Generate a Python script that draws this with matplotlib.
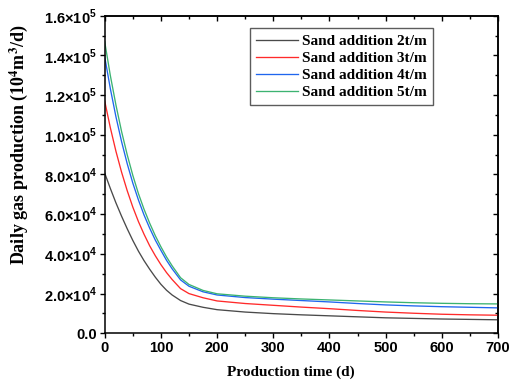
import math
import matplotlib
matplotlib.use("Agg")
import matplotlib.pyplot as plt
from matplotlib.ticker import MultipleLocator, FuncFormatter

# ---- data (values in units of 1e4 m3/d) ----
t = [0, 10, 20, 30, 40, 50, 60, 70, 80, 90, 100, 110, 120, 135, 150, 175, 200,
     250, 300, 350, 400, 450, 500, 550, 600, 650, 700]
gas_2t = [8.07, 7.3, 6.57, 5.9, 5.27, 4.68, 4.14, 3.66, 3.23, 2.83, 2.47, 2.17, 1.93,
          1.65, 1.47, 1.31, 1.19, 1.07, 0.99, 0.93, 0.88, 0.83, 0.78, 0.75, 0.72, 0.70, 0.68]
gas_3t = [11.7, 10.36, 9.17, 8.12, 7.19, 6.36, 5.63, 4.99, 4.41, 3.91, 3.46, 3.06, 2.71,
          2.25, 2.0, 1.79, 1.63, 1.5, 1.41, 1.32, 1.24, 1.15, 1.07, 1.01, 0.96, 0.93, 0.91]
gas_4t = [13.93, 12.33, 10.91, 9.66, 8.55, 7.57, 6.72, 5.96, 5.3, 4.7, 4.18, 3.68, 3.25,
          2.69, 2.37, 2.09, 1.93, 1.8, 1.72, 1.65, 1.58, 1.5, 1.43, 1.38, 1.34, 1.31, 1.28]
gas_5t = [14.69, 12.99, 11.5, 10.17, 9.0, 7.96, 7.04, 6.25, 5.55, 4.92, 4.36, 3.85, 3.4,
          2.8, 2.46, 2.16, 1.99, 1.87, 1.79, 1.73, 1.68, 1.63, 1.58, 1.54, 1.51, 1.49, 1.48]
labels = ["Sand addition 2t/m", "Sand addition 3t/m",
          "Sand addition 4t/m", "Sand addition 5t/m"]
colors = ["#4a4a4a", "#ff2a2a", "#1f66ee", "#3cb371"]

plt.rcParams['mathtext.fontset'] = 'custom'
plt.rcParams['mathtext.rm'] = 'Liberation Sans:bold'
plt.rcParams['mathtext.bf'] = 'Liberation Sans:bold'

fig = plt.figure(figsize=(5.09, 3.82), dpi=100)
ax = fig.add_axes([0.2057, 0.1275, 0.7727, 0.8314])

for y, lab, c in zip([gas_2t, gas_3t, gas_4t, gas_5t], labels, colors):
    ax.plot(t, [v * 1e4 for v in y], color=c, lw=0.95, label=lab)

ax.set_xlim(0, 700)
ax.set_ylim(0, 1.6e5)
ax.xaxis.set_major_locator(MultipleLocator(100))
ax.xaxis.set_minor_locator(MultipleLocator(50))
ax.yaxis.set_major_locator(MultipleLocator(2e4))
ax.yaxis.set_minor_locator(MultipleLocator(1e4))


def yfmt(v, pos):
    if v == 0:
        return "0.0"
    e = int(math.floor(math.log10(abs(v)) + 1e-9))
    m = v / 10 ** e
    return "%.1f\u00d710$^{%d}$" % (m, e)


ax.yaxis.set_major_formatter(FuncFormatter(yfmt))

for s in ax.spines.values():
    s.set_linewidth(1.1)

ax.tick_params(which='both', direction='out', width=1.0, labelsize=10.5, pad=2)
ax.tick_params(which='major', length=3.5)
ax.tick_params(which='minor', length=2)
for lab in ax.get_xticklabels() + ax.get_yticklabels():
    lab.set_fontfamily('Liberation Sans')
    lab.set_fontweight('bold')

secx = ax.secondary_xaxis('top')
secx.xaxis.set_major_locator(MultipleLocator(100))
secx.xaxis.set_minor_locator(MultipleLocator(50))
secx.tick_params(which='both', direction='in', labeltop=False, width=1.0)
secx.tick_params(which='major', length=3.5)
secx.tick_params(which='minor', length=2)
secx.spines['top'].set_linewidth(1.1)

secy = ax.secondary_yaxis('right')
secy.yaxis.set_major_locator(MultipleLocator(2e4))
secy.yaxis.set_minor_locator(MultipleLocator(1e4))
secy.tick_params(which='both', direction='in', labelright=False, width=1.0)
secy.tick_params(which='major', length=3.5)
secy.tick_params(which='minor', length=2)
secy.spines['right'].set_linewidth(1.1)

ax.set_xlabel("Production time (d)", fontfamily='Liberation Serif',
              fontweight='bold', fontsize=11)
yl = ax.set_ylabel(r"Daily gas production (10$^{\mathbf{4}}$m$^{\mathbf{3}}$/d)",
                   fontfamily='Liberation Serif', fontweight='bold', fontsize=13)
yl.set_math_fontfamily('stix')
ax.xaxis.set_label_coords(0.474, -0.10)
ax.yaxis.set_label_coords(-0.19, 0.593)

leg = ax.legend(loc='upper right', bbox_to_anchor=(0.835, 0.96), borderaxespad=0,
                prop={'family': 'Liberation Serif', 'weight': 'bold', 'size': 11},
                frameon=True, fancybox=False, handlelength=2.8, handletextpad=0.25,
                labelspacing=0.22, borderpad=0.4)
leg.get_frame().set_edgecolor('#333333')
leg.get_frame().set_linewidth(1.0)

fig.savefig("out.png", dpi=100)
